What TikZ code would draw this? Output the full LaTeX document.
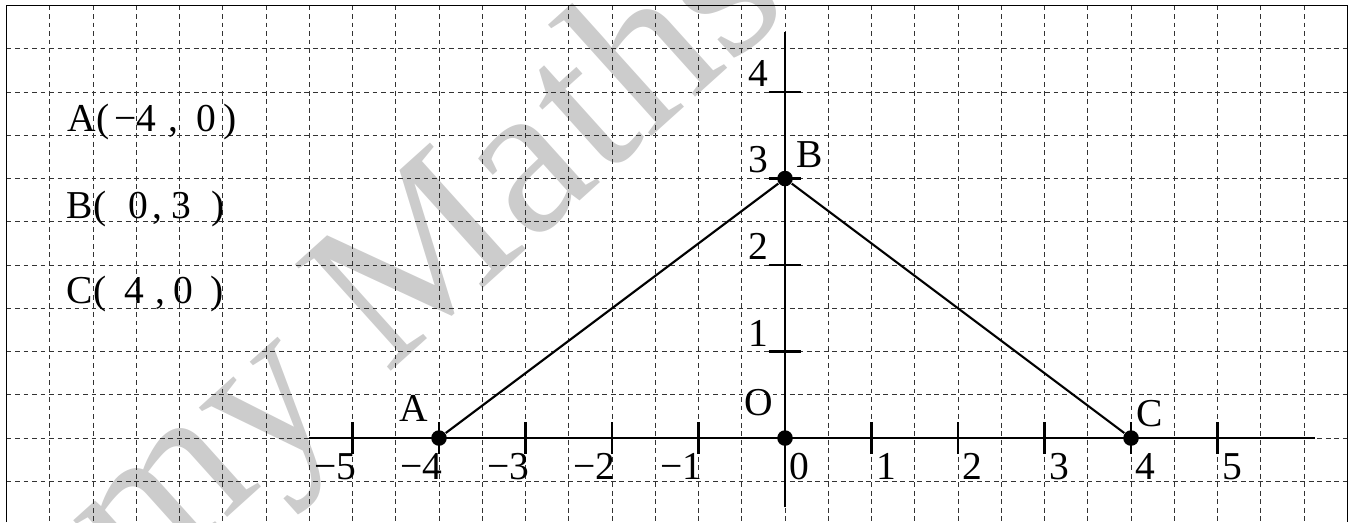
\documentclass[tikz,border=0pt]{standalone}
\usepackage{fontspec}
\setmainfont{Liberation Serif}
\begin{document}
\begin{tikzpicture}[x=1cm,y=1cm,
  gridline/.style={draw=black!80, line width=0.3pt, dash pattern=on 1.6pt off 1.2pt},
  axisline/.style={line width=0.7pt},
  frameline/.style={line width=0.5pt},
  dot/.style={circle, fill=black, inner sep=0pt, minimum size=0.18cm},
  lbl/.style={inner sep=0pt, font=\fontsize{13}{15}\selectfont},
  wm/.style={inner sep=0pt, text=black!20, font=\fontsize{72}{80}\selectfont}]
\useasboundingbox (-9.075,-0.971) rectangle (6.543,5.064);
% watermark
\begin{scope}
\clip (-9.075,-0.971) rectangle (6.543,5.064);
\node[wm, rotate=42] (wmark) at (-4.1,2.0) {my Maths};
\end{scope}
% grid
\foreach \x in {-8.5,-8,...,6.1} \draw[gridline] (\x,5) -- (\x,-0.971);
\foreach \y in {-0.5,0,...,4.6} \draw[gridline] (-9,\y) -- (6.5,\y);
% frame
\draw[frameline] (-9,-0.971) -- (-9,5) -- (6.5,5) -- (6.5,-0.971);
% axes
\coordinate (xs) at (-5.5,0);
\coordinate (xe) at (6.13,0);
\coordinate (ys) at (0,-0.8);
\coordinate (ye) at (0,4.69);
\draw[axisline] (xs) -- (xe);
\draw[axisline] (ys) -- (ye);
\foreach \x in {-5,...,5} \draw[axisline] (\x,-0.18) -- (\x,0.18);
\foreach \y in {1,...,4} \draw[axisline] (-0.19,\y) -- (0.19,\y);
% axis labels
\foreach \x in {0,...,5} \node[lbl, anchor=north west] (xp\x) at (\x+0.05,-0.17) {\x};
\foreach \x in {1,...,5} \node[lbl, anchor=north east] (xn\x) at (-\x+0.05,-0.17) {−\x};
\foreach \y in {1,...,4} \node[lbl, anchor=south east] (yl\y) at (-0.19,\y+0.055) {\y};
% points
\node[dot] (A) at (-4,0) {};
\node[dot] (B) at (0,3) {};
\node[dot] (C) at (4,0) {};
\node[dot] (O) at (0,0) {};
\draw[axisline] (A) -- (B) -- (C);
\node[lbl, anchor=south east] (Al) at (-4.116,0.185) {A};
\node[lbl, anchor=south west] (Bl) at (0.125,3.125) {B};
\node[lbl, anchor=south west] (Cl) at (4.06,0.125) {C};
\node[lbl, anchor=south east] (Ol) at (-0.127,0.25) {O};
% coordinates text
\node[lbl, anchor=base west] (ca) at (-8.30,3.54) {A(\hspace{0.12em}−4\hspace{0.31em},\hspace{0.46em}0\hspace{0.18em})};
\node[lbl, anchor=base west] (cb) at (-8.31,2.54) {B(\hspace{0.57em}0\hspace{0.1em},\hspace{0.23em}3\hspace{0.5em})};
\node[lbl, anchor=base west] (cc) at (-8.31,1.56) {C(\hspace{0.47em}4\hspace{0.28em},\hspace{0.2em}0\hspace{0.45em})};
\end{tikzpicture}
\end{document}
